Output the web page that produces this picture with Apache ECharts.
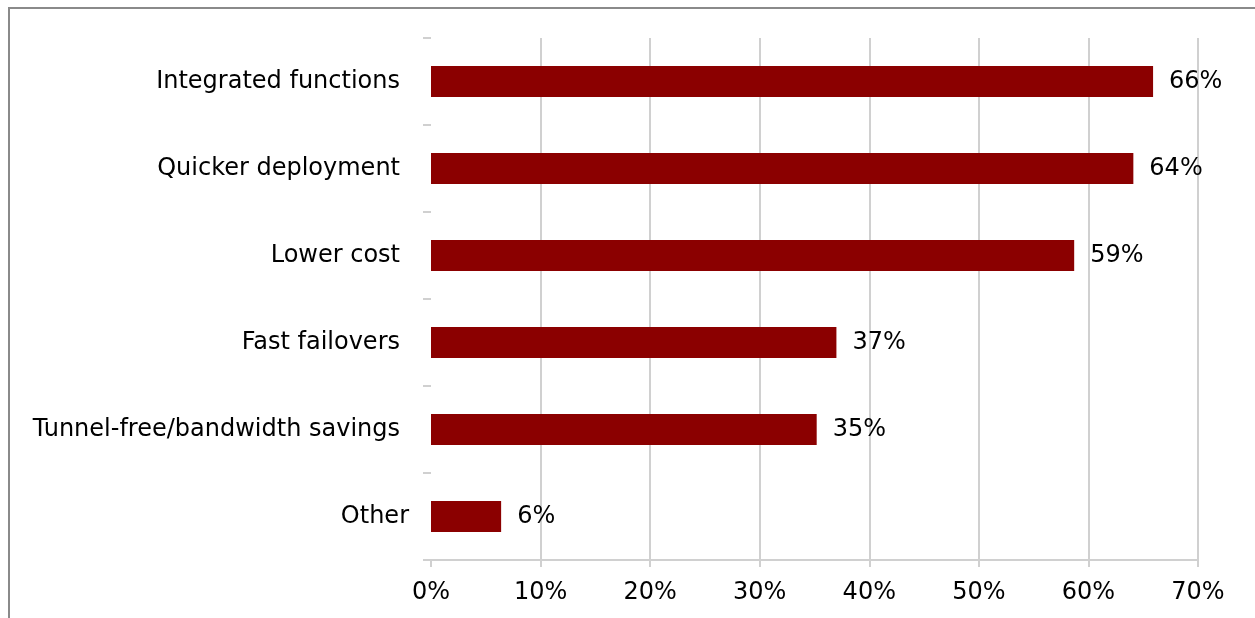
<!DOCTYPE html>
<html>
<head>
<meta charset="utf-8">
<script src="https://cdn.jsdelivr.net/npm/echarts@6/dist/echarts.min.js"></script>
<style>html,body{margin:0;padding:0;background:#fff}#c{width:1255px;height:618px}</style>
</head>
<body>
<div id="c"></div>
<script>
const categories = ['Integrated functions', 'Quicker deployment', 'Lower cost', 'Fast failovers', 'Tunnel-free/bandwidth savings', 'Other'];
const values = [65.9, 64.1, 58.7, 37.0, 35.2, 6.4];
const valueLabels = ['66%', '64%', '59%', '37%', '35%', '6%'];
const xTicks = [0, 10, 20, 30, 40, 50, 60, 70];

const FONT = 'DejaVu Sans, Verdana, sans-serif';
const chart = echarts.init(document.getElementById('c'));
chart.setOption({
  animation: false,
  backgroundColor: '#fff',
  graphic: [{
    type: 'rect', z: 100, silent: true,
    shape: { x: 9, y: 8, width: 1300, height: 700 },
    style: { fill: 'none', stroke: '#8a8a8a', lineWidth: 2 }
  }],
  grid: { left: 431, right: 57, top: 38, bottom: 58 },
  xAxis: {
    type: 'value', min: 0, max: 70, interval: 10,
    axisLine: { show: true, lineStyle: { color: '#d0d0d0', width: 2 } },
    axisTick: { show: true, length: 7, lineStyle: { color: '#d0d0d0', width: 2 } },
    splitLine: { show: true, lineStyle: { color: ['rgba(0,0,0,0)', '#d0d0d0', '#d0d0d0', '#d0d0d0', '#d0d0d0', '#d0d0d0', '#d0d0d0', '#d0d0d0'], width: 2 } },
    axisLabel: { color: '#000', fontSize: 24, fontFamily: FONT, margin: 21,
      formatter: v => xTicks.indexOf(v) >= 0 ? v + '%' : '' }
  },
  yAxis: {
    type: 'category', data: categories, inverse: true,
    axisLine: { show: false },
    axisTick: { show: true, length: 8, inside: false, lineStyle: { color: '#d0d0d0', width: 2 } },
    axisLabel: { color: '#000', fontSize: 24, fontFamily: FONT, margin: 31,
      formatter: v => v === 'Other' ? '{o|' + v + '}' : v,
      rich: { o: { color: '#000', fontSize: 24, fontFamily: FONT, padding: [0, -9, 0, 0] } } }
  },
  series: [{
    type: 'bar', data: values, barWidth: 31,
    itemStyle: { color: '#8b0000' },
    label: { show: true, position: 'right', distance: 16, color: '#000', fontSize: 24, fontFamily: FONT,
      formatter: p => valueLabels[p.dataIndex] }
  }]
});
</script>
</body>
</html>
